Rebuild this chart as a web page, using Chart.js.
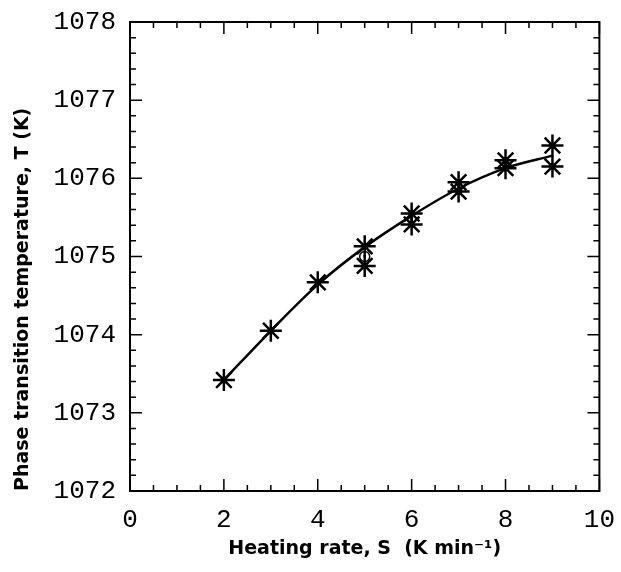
<!DOCTYPE html>
<html>
<head>
<meta charset="utf-8">
<script src="https://cdn.jsdelivr.net/npm/chart.js@4/dist/chart.umd.min.js"></script>
<style>
  html, body { margin: 0; padding: 0; background: #fff; }
  #wrap { width: 621px; height: 572px; }
</style>
</head>
<body>
<div id="wrap"><canvas id="chart"></canvas></div>
<script>
const rateA = [2, 3, 4, 5, 6, 7, 8, 9];
const tempA = [1073.42, 1074.05, 1074.67, 1075.13, 1075.55, 1075.95, 1076.23, 1076.42];
const rateB = [5, 6, 7, 8, 9];
const tempB = [1074.88, 1075.41, 1075.83, 1076.13, 1076.15];
const rateC = [5];
const tempC = [1075.0];
// smoothed curve through the data
const fitRate = [2, 3, 4, 5, 6, 7, 8, 9];
const fitTemp = [1073.42, 1074.05, 1074.64, 1075.12, 1075.52, 1075.87, 1076.13, 1076.29];

const toXY = (xs, ys) => xs.map((x, i) => ({ x: x, y: ys[i] }));

// frame + inward ticks on all four sides
const framePlugin = {
  id: 'frame',
  afterDraw(chart) {
    const { ctx, chartArea: a, scales } = chart;
    const xs = scales.x, ys = scales.y;
    ctx.save();
    ctx.strokeStyle = '#000';
    ctx.lineWidth = 2;
    ctx.strokeRect(a.left, a.top, a.right - a.left, a.bottom - a.top);
    ctx.lineWidth = 1.5;
    ctx.beginPath();
    for (let v = 0; v <= 10.001; v += 0.5) {
      const px = xs.getPixelForValue(v);
      const len = Math.abs(v % 2) < 0.01 ? 12 : 6;
      ctx.moveTo(px, a.bottom); ctx.lineTo(px, a.bottom - len);
      ctx.moveTo(px, a.top); ctx.lineTo(px, a.top + len);
    }
    for (let i = 0; i <= 30; i++) {
      const v = 1072 + i * 0.2;
      const py = ys.getPixelForValue(v);
      const len = i % 5 === 0 ? 12 : 6;
      ctx.moveTo(a.left, py); ctx.lineTo(a.left + len, py);
      ctx.moveTo(a.right, py); ctx.lineTo(a.right - len, py);
    }
    ctx.stroke();
    ctx.restore();
  }
};

const star = { pointStyle: 'star', pointRadius: 11, pointBorderWidth: 2.5,
  borderColor: '#000', backgroundColor: '#000', showLine: false };

const tickFont = { family: "'Liberation Mono', 'DejaVu Sans Mono', monospace", size: 26 };
const titleFont = { family: "'DejaVu Sans', sans-serif", size: 19, weight: 'bold' };

new Chart(document.getElementById('chart'), {
  type: 'scatter',
  data: {
    datasets: [
      { label: 'fit', data: toXY(fitRate, fitTemp), showLine: true, borderColor: '#000',
        borderWidth: 2.5, pointRadius: 0, tension: 0.4, cubicInterpolationMode: 'monotone' },
      Object.assign({ label: 'A', data: toXY(rateA, tempA) }, star),
      Object.assign({ label: 'B', data: toXY(rateB, tempB) }, star),
      { label: 'C', data: toXY(rateC, tempC), pointStyle: 'circle', pointRadius: 5,
        pointBorderWidth: 1.5, borderColor: '#000', backgroundColor: '#fff', showLine: false }
    ]
  },
  options: {
    responsive: true,
    maintainAspectRatio: false,
    animation: false,
    layout: { padding: { top: 22, right: 21, left: 0, bottom: 0 } },
    plugins: { legend: { display: false }, tooltip: { enabled: false } },
    scales: {
      x: {
        type: 'linear', min: 0, max: 10,
        grid: { display: false }, border: { display: false },
        ticks: { stepSize: 2, color: '#000', padding: 6, font: tickFont },
        title: { display: true, text: 'Heating rate, S  (K min⁻¹)', color: '#000',
          padding: { top: 2, bottom: 12 }, font: titleFont },
        afterFit(s) { s.height = 81; }
      },
      y: {
        type: 'linear', min: 1072, max: 1078,
        grid: { display: false }, border: { display: false },
        ticks: { stepSize: 1, color: '#000', padding: 6,
          callback: v => String(v), font: tickFont },
        title: { display: true, text: 'Phase transition temperature, T (K)', color: '#000',
          align: 'start', padding: { top: 12, bottom: 4 }, font: titleFont },
        afterFit(s) { s.width = 130; }
      }
    }
  },
  plugins: [framePlugin]
});
</script>
</body>
</html>
